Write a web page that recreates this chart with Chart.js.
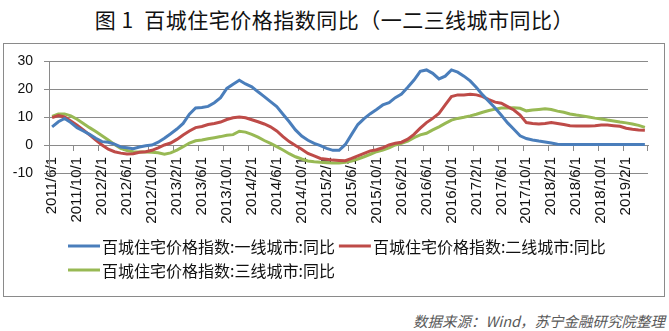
<!DOCTYPE html>
<html>
<head>
    <meta charset="utf-8">
    <title>百城住宅价格指数同比</title>
    <script src="https://cdn.jsdelivr.net/npm/chart.js"></script>
    <style>
        body {
            margin: 0;
            width: 669px;
            height: 331px;
            background: #fff;
            position: relative;
            overflow: hidden;
        }
        #title {
            position: absolute;
            left: 0;
            width: 669px;
            top: 8px;
            text-align: center;
            font-family: "Noto Sans CJK SC", sans-serif;
            font-size: 21px;
            font-weight: 400;
            line-height: 22px;
            letter-spacing: 0.5px;
            color: #111;
        }
        #chartBox {
            position: absolute;
            left: 3px;
            top: 43px;
            width: 660px;
            height: 252px;
            border: 1px solid #8a8a8a;
        }
        #source {
            position: absolute;
            right: 4px;
            top: 313px;
            font-family: "Noto Sans CJK SC", sans-serif;
            font-size: 14.5px;
            font-style: italic;
            line-height: 16px;
            color: #595959;
        }
    </style>
</head>
<body>
    <div id="title">图 1&nbsp; 百城住宅价格指数同比（一二三线城市同比）</div>
    <div id="chartBox">
        <canvas id="myChart" width="660" height="252"></canvas>
    </div>
    <div id="source">数据来源：Wind，苏宁金融研究院整理</div>

    <script>
        // 同比 (%), monthly from 2011/6 to 2019/5
        const tier1 = [
            6.5, 8.3, 9.5, 8.0, 6.2, 5.0, 3.8, 2.4, 1.2, 1.0, 0.3, -0.7,
            -1.0, -1.3, -0.7, -0.3, 0.0, 1.0, 2.4, 4.0, 5.7, 7.7, 11.0, 13.2,
            13.4, 13.8, 15.1, 16.9, 20.2, 21.7, 23.1, 21.8, 20.8, 19.0, 17.3, 15.5,
            13.7, 11.0, 8.3, 5.4, 3.2, 1.7, 0.6, -0.2, -1.2, -1.9, -1.9, 0.2,
            3.8, 7.3, 9.4, 11.2, 12.7, 14.3, 15.1, 16.9, 18.2, 20.6, 23.2, 26.3,
            26.8, 25.6, 23.6, 24.6, 26.8, 26.0, 24.6, 22.9, 20.5, 17.9, 15.5, 13.2,
            10.6, 7.9, 5.6, 3.3, 2.3, 1.8, 1.4, 1.1, 0.7, 0.3, 0.2, 0.2,
            0.2, 0.2, 0.2, 0.2, 0.2, 0.2, 0.2, 0.2, 0.2, 0.2, 0.2, 0.2
        ];
        const tier2 = [
            9.8, 10.5, 10.0, 8.6, 7.1, 5.4, 3.6, 1.8, 0.0, -1.5, -2.4, -2.9,
            -3.2, -3.1, -2.6, -2.4, -1.9, -1.0, 0.0, 0.7, 2.0, 3.6, 5.0, 6.2,
            6.6, 7.3, 7.7, 8.2, 9.1, 9.7, 10.0, 9.7, 9.0, 8.3, 7.5, 6.5,
            5.0, 3.0, 1.2, -0.2, -1.5, -3.0, -3.9, -4.8, -5.1, -5.4, -5.5, -5.6,
            -4.8, -3.9, -3.0, -2.1, -1.7, -1.0, 0.0, 0.6, 1.0, 2.1, 3.8, 6.0,
            8.0, 9.5, 11.3, 14.3, 17.3, 17.9, 17.9, 18.1, 17.9, 17.3, 16.2, 15.3,
            14.9, 13.7, 12.5, 10.7, 8.0, 7.7, 7.5, 7.7, 8.0, 7.7, 7.3, 6.9,
            6.8, 6.8, 6.8, 6.9, 7.1, 7.1, 6.9, 6.7, 6.0, 5.6, 5.4, 5.3
        ];
        const tier3 = [
            10.2, 11.1, 11.1, 10.4, 9.2, 7.7, 6.2, 4.8, 3.3, 1.8, 0.2, -1.2,
            -2.0, -2.4, -2.5, -2.5, -2.6, -2.8, -3.3, -2.8, -1.8, -0.6, 0.7, 1.5,
            1.8, 2.2, 2.6, 3.0, 3.5, 3.7, 4.9, 4.6, 3.8, 2.8, 1.6, 0.6,
            -0.6, -1.8, -3.1, -4.2, -5.0, -5.7, -6.0, -6.2, -6.3, -6.4, -6.4, -6.2,
            -5.7, -5.0, -4.2, -3.3, -2.4, -1.8, -1.0, 0.0, 0.6, 1.4, 2.6, 3.6,
            4.2, 5.4, 6.5, 7.7, 8.9, 9.5, 9.9, 10.4, 11.0, 11.7, 12.3, 12.8,
            13.2, 13.2, 13.3, 13.1, 12.2, 12.5, 12.7, 12.9, 12.7, 12.1, 11.7, 11.1,
            10.7, 10.4, 10.0, 9.6, 9.3, 8.9, 8.6, 8.2, 7.9, 7.5, 7.0, 6.3
        ];
        const seriesNames = [
            '百城住宅价格指数:一线城市:同比',
            '百城住宅价格指数:二线城市:同比',
            '百城住宅价格指数:三线城市:同比'
        ];
        const seriesColors = ['#4A7EBB', '#BE4B48', '#98B954'];
        const yTicks = [-10, 0, 10, 20, 30];

        // month labels like 2011/6/1
        const months = [];
        for (let i = 0; i < tier1.length; i++) {
            const m = 5 + i;
            months.push((2011 + Math.floor(m / 12)) + '/' + (m % 12 + 1) + '/1');
        }

        const gridColor = '#8a8a8a';
        const numFont = '"Liberation Sans", Arial, sans-serif';

        // legend drawn by hand: line sample + text, wrapping like the office chart legend
        const lineLegend = {
            id: 'lineLegend',
            afterDraw(chart) {
                const ctx = chart.ctx;
                const startX = 64, sample = 32, gap = 2, spacing = 4, rowH = 24, maxRight = 640;
                let x = startX, y = 202;
                ctx.save();
                ctx.font = '16px "Noto Sans CJK SC", sans-serif';
                ctx.textBaseline = 'middle';
                chart.data.datasets.forEach(ds => {
                    const w = ctx.measureText(ds.label).width;
                    if (x > startX && x + sample + gap + w > maxRight) {
                        x = startX;
                        y += rowH;
                    }
                    ctx.strokeStyle = ds.borderColor;
                    ctx.lineWidth = 3;
                    ctx.beginPath();
                    ctx.moveTo(x, y);
                    ctx.lineTo(x + sample, y);
                    ctx.stroke();
                    ctx.fillStyle = '#111';
                    ctx.fillText(ds.label, x + sample + gap, y + 1);
                    x += sample + gap + w + spacing;
                });
                ctx.restore();
            }
        };

        const series = [tier1, tier2, tier3];
        const ctx = document.getElementById('myChart').getContext('2d');
        const myChart = new Chart(ctx, {
            type: 'line',
            data: {
                labels: months,
                datasets: series.map((d, i) => ({
                    label: seriesNames[i],
                    data: d,
                    borderColor: seriesColors[i],
                    backgroundColor: seriesColors[i],
                    borderWidth: 3,
                    pointRadius: 0,
                    tension: 0,
                    fill: false
                }))
            },
            options: {
                responsive: false,
                animation: false,
                layout: { padding: { left: 9, right: 16, top: 17, bottom: 123 } },
                plugins: {
                    legend: { display: false },
                    tooltip: { enabled: false }
                },
                scales: {
                    x: {
                        type: 'category',
                        position: { y: 0 },
                        offset: true,
                        // rotated labels should not eat into the plot width
                        afterFit: s => { s.paddingLeft = 0; s.paddingRight = 0; },
                        grid: {
                            drawOnChartArea: false,
                            offset: true,
                            tickLength: 5,
                            tickColor: c => (c.index === undefined || c.index % 4 === 0) ? gridColor : 'rgba(0,0,0,0)'
                        },
                        border: { color: gridColor },
                        ticks: {
                            autoSkip: false,
                            minRotation: 90,
                            maxRotation: 90,
                            padding: 7,
                            color: '#111',
                            font: { family: numFont, size: 15 },
                            callback: (v, i) => i % 4 === 0 ? months[i] : ''
                        }
                    },
                    y: {
                        min: yTicks[0],
                        max: yTicks[yTicks.length - 1],
                        afterBuildTicks: s => { s.ticks = yTicks.map(v => ({ value: v })); },
                        // fixed axis width, plot edges come from layout padding only
                        afterFit: s => { s.width = 36; s.paddingTop = 0; s.paddingBottom = 0; },
                        grid: { color: gridColor, tickLength: 5 },
                        border: { color: gridColor },
                        ticks: { padding: 11, color: '#111', font: { family: numFont, size: 14 } }
                    }
                }
            },
            plugins: [lineLegend]
        });
    </script>
</body>
</html>
